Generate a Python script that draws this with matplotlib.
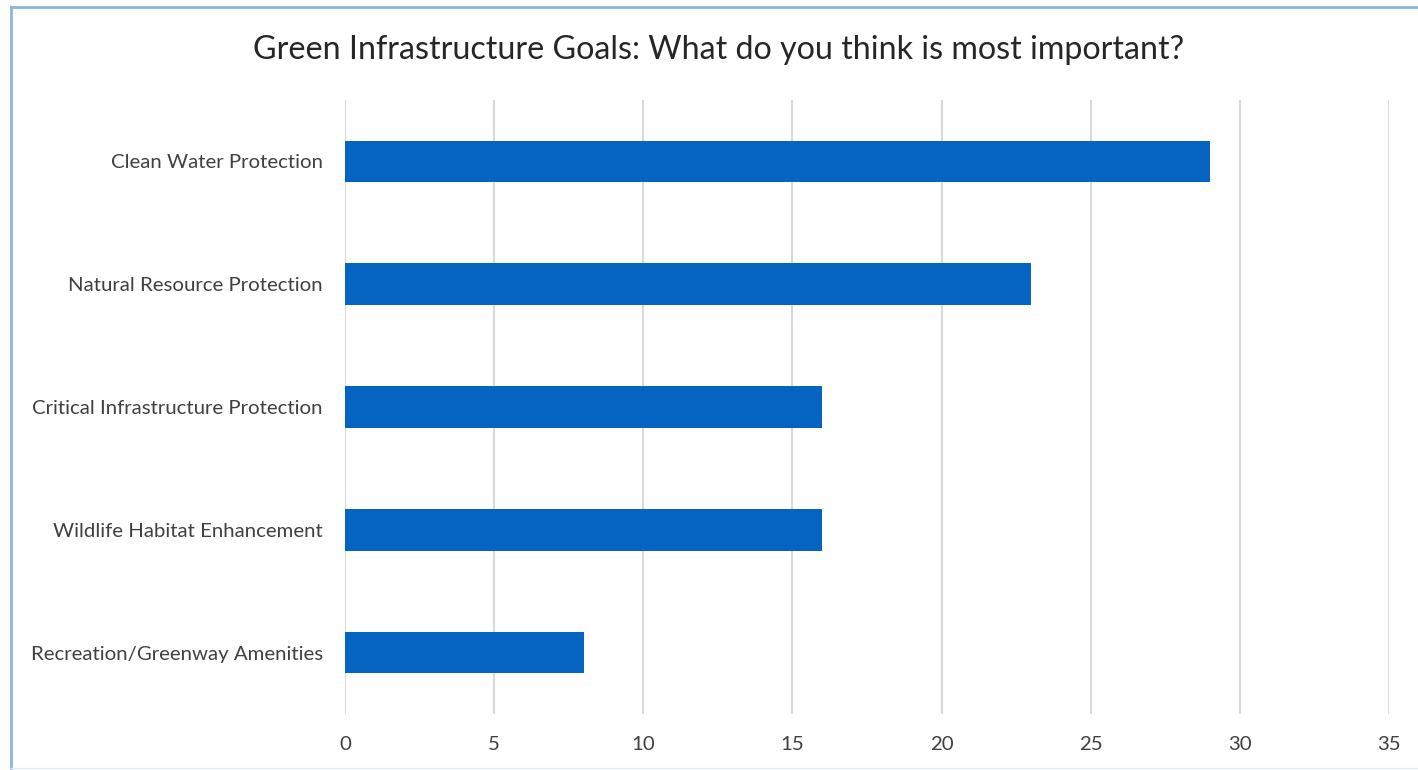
import matplotlib
matplotlib.use("Agg")
import matplotlib.pyplot as plt
from matplotlib.lines import Line2D

categories = [
    "Clean Water Protection",
    "Natural Resource Protection",
    "Critical Infrastructure Protection",
    "Wildlife Habitat Enhancement",
    "Recreation/Greenway Amenities",
]
values = [29, 23, 16, 16, 8]
xticks = [0, 5, 10, 15, 20, 25, 30, 35]

plt.rcParams["font.family"] = ["Lato", "DejaVu Sans"]

fig = plt.figure(figsize=(14.18, 7.7), dpi=100)
ax = fig.add_axes([0.2433, 0.0727, 0.7362, 0.7974])

pos = list(range(len(categories)))
ax.barh(pos, values, height=0.34, color="#0563C1", zorder=3)
ax.set_ylim(len(categories) - 0.5, -0.5)
ax.set_xlim(0, 35)
ax.set_xticks(xticks)
ax.set_yticks(pos)
ax.set_yticklabels(categories, fontsize=14.7, color="#404040")
ax.tick_params(axis="x", labelsize=14.7, colors="#404040", length=0, pad=16)
ax.tick_params(axis="y", length=0, pad=16)
ax.grid(axis="x", color="#D9D9D9", linewidth=1.5, zorder=0)
for s in ax.spines.values():
    s.set_visible(False)

fig.text(0.507, 0.935, "Green Infrastructure Goals: What do you think is most important?",
         ha="center", va="center", fontsize=23.2, color="#262626")

# frame lines: left and top in blue, faint bottom
fig.lines.append(Line2D([0.0075, 0.0075], [0.0, 0.991], transform=fig.transFigure,
                        color="#8DB4E2", linewidth=2))
fig.lines.append(Line2D([0.0075, 1.0], [0.991, 0.991], transform=fig.transFigure,
                        color="#8DB4E2", linewidth=2))
fig.lines.append(Line2D([0.0075, 1.0], [0.002, 0.002], transform=fig.transFigure,
                        color="#E4ECF5", linewidth=1))

fig.savefig("out.png", dpi=100)
plt.close(fig)
